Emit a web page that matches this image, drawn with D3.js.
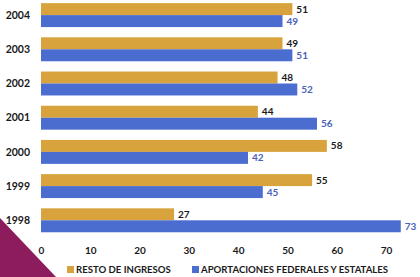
<!DOCTYPE html>
<html>
<head>
<meta charset="utf-8">
<script src="https://cdn.jsdelivr.net/npm/d3@7"></script>
<style>
  body { margin: 0; background: #fff; }
  text { font-family: Lato, "Open Sans", sans-serif; font-weight: bold; }
</style>
</head>
<body>
<svg id="root" width="420" height="277"></svg>
<script>
// datos
const years = ['2004', '2003', '2002', '2001', '2000', '1999', '1998']
const resto = [51, 49, 48, 44, 58, 55, 27]
const aportaciones = [49, 51, 52, 56, 42, 45, 73]
const xTicks = [0, 10, 20, 30, 40, 50, 60, 70]
const seriesNames = ['RESTO DE INGRESOS', 'APORTACIONES FEDERALES Y ESTATALES']
const colors = ['#d8a33c', '#4c6dd0']
const labelColors = ['#1a1a1a', '#4a62b8']

const root = d3.select('#root')

// triangulo decorativo abajo a la izquierda
root.append('path')
  .attr('d', 'M0,218 L56,277 L0,277 Z')
  .attr('fill', '#8c1c5c')

const x = d3.scaleLinear().domain([0, 70]).range([41, 386])
const y = d3.scaleBand().domain(years).range([-2, 237.4]).paddingInner(0.3).paddingOuter(0.15)
const ySub = d3.scaleBand().domain([0, 1]).range([0, y.bandwidth()])

const rows = years.map((yr, i) => ({ year: yr, vals: [resto[i], aportaciones[i]] }))

const g = root.selectAll('g.row').data(rows).enter().append('g')
  .attr('class', 'row')
  .attr('transform', d => `translate(0,${y(d.year)})`)

g.selectAll('rect').data(d => d.vals).enter().append('rect')
  .attr('x', x(0))
  .attr('y', (d, i) => ySub(i))
  .attr('width', d => x(d) - x(0))
  .attr('height', ySub.bandwidth())
  .attr('fill', (d, i) => colors[i])

g.selectAll('text.val').data(d => d.vals).enter().append('text')
  .attr('class', 'val')
  .attr('x', d => x(d) + 4)
  .attr('y', (d, i) => ySub(i) + ySub.bandwidth() / 2)
  .attr('dy', '0.35em')
  .attr('font-size', 10)
  .attr('fill', (d, i) => labelColors[i])
  .text(d => d)

// etiquetas de los anios
root.selectAll('text.year').data(years).enter().append('text')
  .attr('class', 'year')
  .attr('x', 30)
  .attr('y', d => y(d) + y.bandwidth() / 2)
  .attr('dy', '0.35em')
  .attr('text-anchor', 'end')
  .attr('font-size', 10.5)
  .attr('fill', '#1a1a1a')
  .text(d => d)

// eje x
const xAxis = root.append('g')
  .attr('transform', 'translate(0,243)')
  .call(d3.axisBottom(x).tickValues(xTicks).tickSize(0).tickPadding(4))
xAxis.select('.domain').remove()
xAxis.selectAll('text')
  .attr('font-size', 10)
  .attr('fill', '#1a1a1a')
  .style('font-family', 'Lato, sans-serif')
  .style('font-weight', 'bold')

// leyenda
const legX = [67, 192]
const leg = root.selectAll('g.leg').data(seriesNames).enter().append('g')
  .attr('class', 'leg')
  .attr('transform', (d, i) => `translate(${legX[i]},266)`)
leg.append('rect')
  .attr('width', 7)
  .attr('height', 7)
  .attr('fill', (d, i) => colors[i])
leg.append('text')
  .attr('x', 9)
  .attr('y', 3.5)
  .attr('dy', '0.35em')
  .attr('font-size', 9.6)
  .attr('fill', '#1a1a1a')
  .text(d => d)
</script>
</body>
</html>
